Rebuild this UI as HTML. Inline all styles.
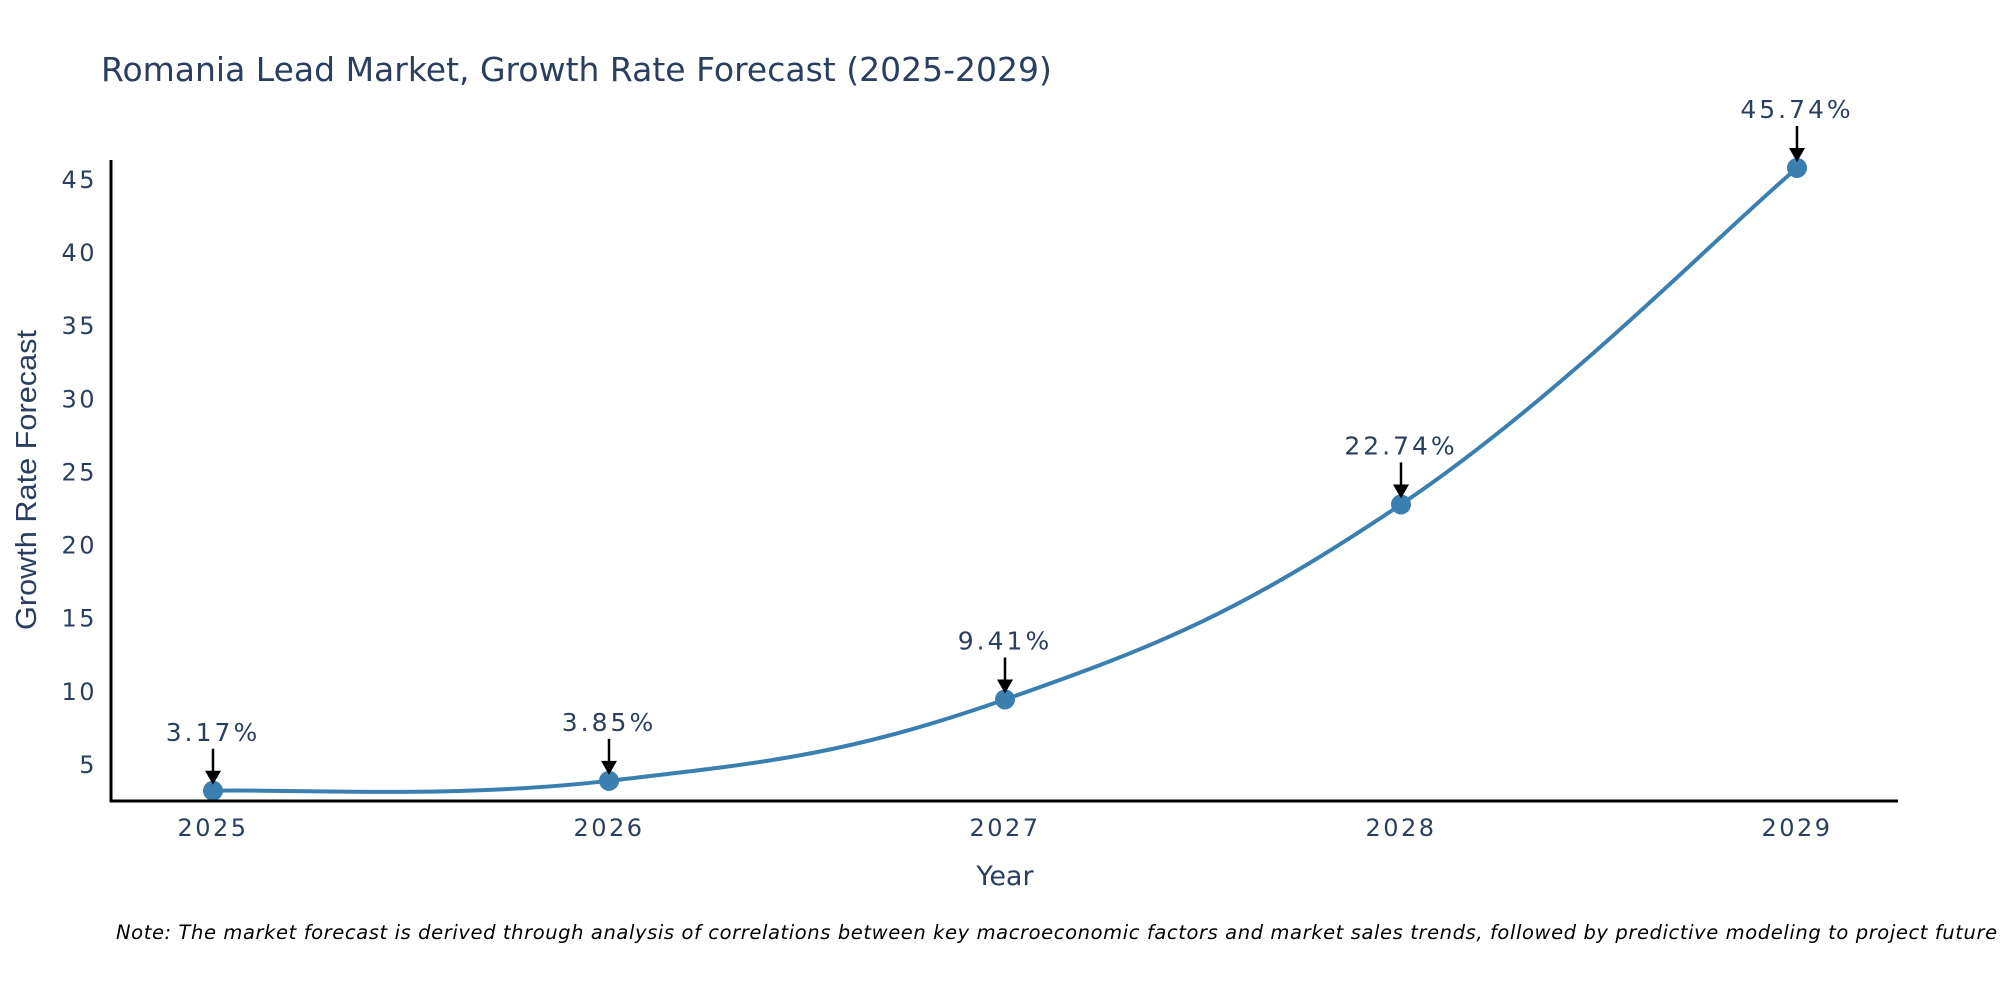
<!DOCTYPE html>
<html><head><meta charset="utf-8"><style>
body{margin:0;background:#fff}
svg{display:block;font-family:"DejaVu Sans","Liberation Sans",sans-serif}
</style></head><body>
<svg id="chart" width="2000" height="1000">
<text x="101" y="81" font-size="33" fill="#2a3f5f">Romania Lead Market, Growth Rate Forecast (2025-2029)</text>
<g id="yticks"></g>
<g id="xticks"></g>
<path id="line" fill="none" stroke="#3a7fb0" stroke-width="4"/>
<g id="pts"></g>
<g id="ann"></g>
<line x1="111" y1="160" x2="111" y2="802" stroke="#000" stroke-width="3"/>
<line x1="110" y1="801" x2="1898" y2="801" stroke="#000" stroke-width="3"/>
<text transform="translate(36,480) rotate(-90)" text-anchor="middle" font-size="29" fill="#2a3f5f" font-family="Liberation Sans, sans-serif" textLength="300" lengthAdjust="spacingAndGlyphs">Growth Rate Forecast</text>
<text x="1005" y="885" text-anchor="middle" font-size="27" fill="#2a3f5f">Year</text>
<text x="116" y="939" font-size="19.5" font-style="italic" fill="#000" letter-spacing="0.6">Note: The market forecast is derived through analysis of correlations between key macroeconomic factors and market sales trends, followed by predictive modeling to project future sales</text>
</svg>
<script>
const years=[2025,2026,2027,2028,2029];
const values=[3.17,3.85,9.41,22.74,45.74];
const yTickVals=[5,10,15,20,25,30,35,40,45];
const NS="http://www.w3.org/2000/svg";
function xs(i){return 213+(i)*396;}
function ys(v){return 764-(v-5)*14.63;}
function mk(tag,attrs,parent){const e=document.createElementNS(NS,tag);for(const k in attrs)e.setAttribute(k,attrs[k]);parent.appendChild(e);return e;}
const yt=document.getElementById('yticks');
yTickVals.forEach(v=>{const t=mk('text',{x:97,y:ys(v)+9,'text-anchor':'end','font-size':24,'letter-spacing':2.5,fill:'#2a3f5f'},yt);t.textContent=v;

});
const xt=document.getElementById('xticks');
years.forEach((y,i)=>{const t=mk('text',{x:xs(i),y:836,'text-anchor':'middle','font-size':24,'letter-spacing':2.5,fill:'#2a3f5f'},xt);t.textContent=y;

});
const P=values.map((v,i)=>[xs(i),ys(v)]);
let d="M"+P[0][0]+","+P[0][1];
for(let i=0;i<P.length-1;i++){const p0=P[Math.max(i-1,0)],p1=P[i],p2=P[i+1],p3=P[Math.min(i+2,P.length-1)];const s=0.2;
const c1=[p1[0]+(p2[0]-p0[0])*s,p1[1]+(p2[1]-p0[1])*s];const c2=[p2[0]-(p3[0]-p1[0])*s,p2[1]-(p3[1]-p1[1])*s];
d+=` C${c1[0]},${c1[1]} ${c2[0]},${c2[1]} ${p2[0]},${p2[1]}`;}
document.getElementById('line').setAttribute('d',d);
const pg=document.getElementById('pts'),ag=document.getElementById('ann');
values.forEach((v,i)=>{const x=xs(i),y=ys(v);
const c=mk('circle',{cx:x,cy:y,r:10,fill:'#3a7fb0'},pg);


const l=mk('line',{x1:x,y1:y-42,x2:x,y2:y-18,stroke:'#000','stroke-width':2.5},ag);


const h=mk('path',{d:`M${x-8},${y-20} L${x+8},${y-20} L${x},${y-6} Z`,fill:'#000'},ag);


const t=mk('text',{x:x,y:y-50,'text-anchor':'middle','font-size':25,'letter-spacing':3,fill:'#2a3f5f'},ag);t.textContent=v.toFixed(2)+'%';

});
</script>
</body></html>
